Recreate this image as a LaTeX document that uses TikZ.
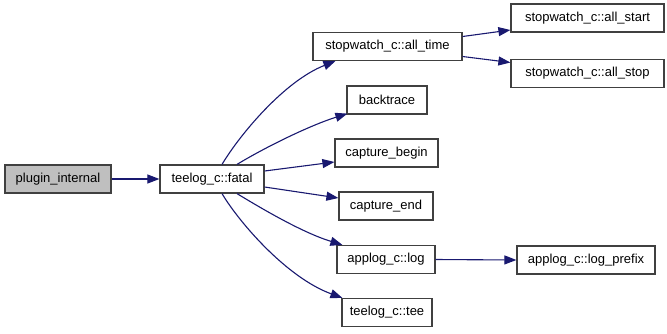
\documentclass[tikz,border=0pt]{standalone}
\usepackage{fontspec}
\setmainfont{Liberation Sans}
\usetikzlibrary{arrows.meta,calc}
\definecolor{edgeblue}{HTML}{191970}
\definecolor{rootfill}{HTML}{BFBFBF}
\definecolor{boxline}{HTML}{404040}
\begin{document}
\begin{tikzpicture}[x=1pt,y=-1pt,
  fnbox/.style={draw=boxline,line width=1.2pt,fill=white,rectangle,inner sep=0pt,
    minimum height=28pt,font=\fontsize{13}{15}\selectfont},
  rootbox/.style={fnbox,fill=rootfill},
  call/.style={draw=edgeblue,line width=1.1pt,-{Triangle[length=12pt,width=9pt]}}]
\useasboundingbox (0,0) rectangle (667,333);

% caller and the fatal handler
\node[rootbox,minimum width=106pt] (plugin) at (58,179) {plugin\_internal};
\node[fnbox,minimum width=104pt] (fatal) at (212,179) {teelog\_c::fatal};

% functions called from fatal
\node[fnbox,minimum width=149pt] (alltime) at (387.5,46.5) {stopwatch\_c::all\_time};
\node[fnbox,minimum width=80pt] (backtrace) at (387,100) {backtrace};
\node[fnbox,minimum width=103pt] (capbegin) at (386.5,153) {capture\_begin};
\node[fnbox,minimum width=94pt] (capend) at (386,206) {capture\_end};
\node[fnbox,minimum width=98pt] (applog) at (386,259.5) {applog\_c::log};
\node[fnbox,minimum width=90pt] (tee) at (387,312.5) {teelog\_c::tee};

% second level
\node[fnbox,minimum width=153pt] (allstart) at (587.5,18) {stopwatch\_c::all\_start};
\node[fnbox,minimum width=153pt] (allstop) at (587.5,73.5) {stopwatch\_c::all\_stop};
\node[fnbox,minimum width=138pt] (prefix) at (586,260) {applog\_c::log\_prefix};

% calls
\draw[call] (plugin.east) -- (fatal.west);
\draw[call] ($(fatal.north)+(10,0)$) .. controls ($(fatal.north)+(28,-30)$) and ($(alltime.south west)+(-28,20)$) .. ($(alltime.south west)+(23,0)$);
\draw[call] ($(fatal.north)+(25,0)$) .. controls ($(fatal.north)+(53,-17)$) and ($(backtrace.south west)+(-37,11)$) .. ($(backtrace.south west)+(1,-1)$);
\draw[call] ($(fatal.east)+(0,-8)$) -- ($(capbegin.west)+(0,9)$);
\draw[call] ($(fatal.east)+(0,8)$) -- ($(capend.west)+(0,-8)$);
\draw[call] ($(fatal.south)+(25,0)$) .. controls ($(fatal.south)+(53,17)$) and ($(applog.north west)+(-33,-12)$) .. ($(applog.north west)+(6,0)$);
\draw[call] ($(fatal.south)+(10,0)$) .. controls ($(fatal.south)+(28,30)$) and ($(tee.north west)+(-54,-20)$) .. ($(tee.north west)+(1,0)$);
\draw[call] ($(alltime.east)+(0,-10)$) -- ($(allstart.west)+(0,12)$);
\draw[call] ($(alltime.east)+(0,10)$) -- ($(allstop.west)+(0,-11)$);
\draw[call] (applog.east) -- (prefix.west);
\end{tikzpicture}
\end{document}
